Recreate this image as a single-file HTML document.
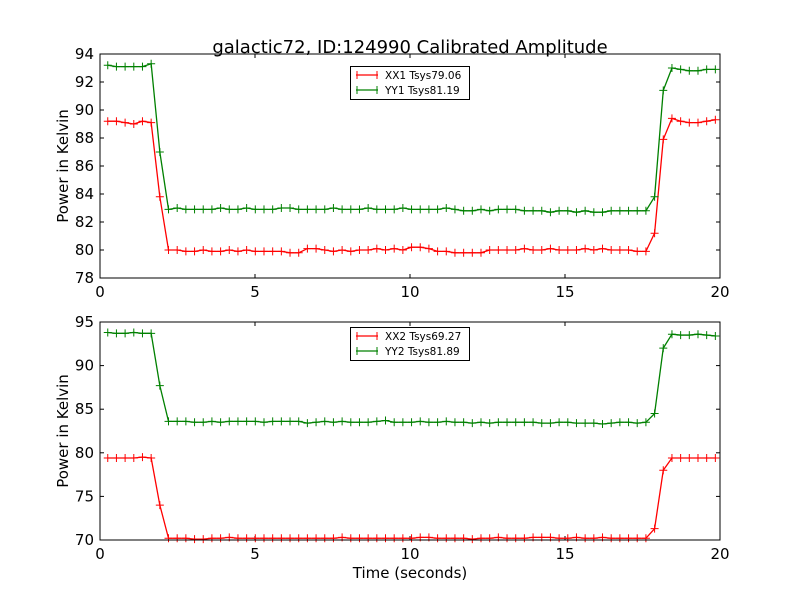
<!DOCTYPE html>
<html><head><meta charset="utf-8"><style>
body{margin:0;background:#fff;}
svg{display:block;font-family:"DejaVu Sans","Liberation Sans",sans-serif;}
</style></head><body>
<svg id="chart" width="800" height="600" viewBox="0 0 800 600">
<rect width="800" height="600" fill="#fff"/>
<text x="410" y="53" font-size="18" text-anchor="middle">galactic72, ID:124990 Calibrated Amplitude</text>
<text x="410" y="578" font-size="15" text-anchor="middle">Time (seconds)</text>
<g id="plots"></g>
</svg>
<script>
const xTicks = [0, 5, 10, 15, 20];
const topYTicks = [78, 80, 82, 84, 86, 88, 90, 92, 94];
const botYTicks = [70, 75, 80, 85, 90, 95];
const tStart = 0.25, tStep = 0.28, nPts = 71;
const xx1 = [89.2,89.2,89.1,89.0,89.2,89.1,83.8,
80.0,80.0,79.9,79.9,80.0,79.9,79.9,80.0,
79.9,80.0,79.9,79.9,79.9,79.9,79.8,79.8,
80.1,80.1,80.0,79.9,80.0,79.9,80.0,80.0,
80.1,80.0,80.1,80.0,80.2,80.2,80.1,79.9,
79.9,79.8,79.8,79.8,79.8,80.0,80.0,80.0,
80.0,80.1,80.0,80.0,80.1,80.0,80.0,80.0,
80.1,80.0,80.1,80.0,80.0,80.0,79.9,79.9,
81.2,87.9,89.4,89.2,89.1,89.1,89.2,89.3];
const yy1 = [93.2,93.1,93.1,93.1,93.1,93.3,87.0,
82.9,83.0,82.9,82.9,82.9,82.9,83.0,82.9,
82.9,83.0,82.9,82.9,82.9,83.0,83.0,82.9,
82.9,82.9,82.9,83.0,82.9,82.9,82.9,83.0,
82.9,82.9,82.9,83.0,82.9,82.9,82.9,82.9,
83.0,82.9,82.8,82.8,82.9,82.8,82.9,82.9,
82.9,82.8,82.8,82.8,82.7,82.8,82.8,82.7,
82.8,82.7,82.7,82.8,82.8,82.8,82.8,82.8,
83.8,91.4,93.0,92.9,92.8,92.8,92.9,92.9];
const xx2 = [79.4,79.4,79.4,79.4,79.5,79.4,74.0,
70.2,70.2,70.2,70.1,70.1,70.2,70.2,70.3,
70.2,70.2,70.2,70.2,70.2,70.2,70.2,70.2,
70.2,70.2,70.2,70.2,70.3,70.2,70.2,70.2,
70.2,70.2,70.2,70.2,70.2,70.3,70.3,70.2,
70.2,70.2,70.2,70.1,70.2,70.2,70.3,70.2,
70.2,70.2,70.3,70.3,70.3,70.2,70.2,70.3,
70.2,70.2,70.3,70.2,70.2,70.2,70.2,70.2,
71.3,78.0,79.4,79.4,79.4,79.4,79.4,79.4];
const yy2 = [93.8,93.7,93.7,93.8,93.7,93.7,87.7,
83.6,83.6,83.6,83.5,83.5,83.6,83.5,83.6,
83.6,83.6,83.6,83.5,83.6,83.6,83.6,83.6,
83.4,83.5,83.6,83.5,83.6,83.5,83.5,83.5,
83.6,83.7,83.5,83.5,83.5,83.6,83.5,83.5,
83.6,83.5,83.5,83.4,83.5,83.4,83.5,83.5,
83.5,83.5,83.5,83.4,83.4,83.5,83.5,83.4,
83.4,83.4,83.3,83.4,83.5,83.5,83.4,83.5,
84.5,92.0,93.6,93.5,93.5,93.6,93.5,93.4];
const labels1 = ["XX1 Tsys79.06", "YY1 Tsys81.19"];
const labels2 = ["XX2 Tsys69.27", "YY2 Tsys81.89"];

const NS = "http://www.w3.org/2000/svg";
const root = document.getElementById("plots");
function mk(tag, attrs, parent) {
  const e = document.createElementNS(NS, tag);
  for (const k in attrs) e.setAttribute(k, attrs[k]);
  parent.appendChild(e);
  return e;
}
function panel(key, top, bottom, yTicks, s1, s2, labs, legTop) {
  const L = 100, R = 720;
  const yMin = yTicks[0], yMax = yTicks[yTicks.length - 1];
  const xs = t => L + (t - xTicks[0]) / (xTicks[xTicks.length-1] - xTicks[0]) * (R - L);
  const ys = v => bottom - (v - yMin) / (yMax - yMin) * (bottom - top);
  const g = mk("g", {}, root);
  
  
  xTicks.forEach(t => {
    const x = xs(t);
    mk("line", {x1:x, x2:x, y1:bottom, y2:bottom-4, stroke:"#000"}, g);
    mk("line", {x1:x, x2:x, y1:top, y2:top+4, stroke:"#000"}, g);
    const tx = mk("text", {x:x, y:bottom+19, "font-size":15, "text-anchor":"middle"}, g);
    tx.textContent = t;
    
    
  });
  yTicks.forEach(v => {
    const y = ys(v);
    mk("line", {x1:L, x2:L+4, y1:y, y2:y, stroke:"#000"}, g);
    mk("line", {x1:R, x2:R-4, y1:y, y2:y, stroke:"#000"}, g);
    const tx = mk("text", {x:L-6, y:y+5, "font-size":15, "text-anchor":"end"}, g);
    tx.textContent = v;
    
    
  });
  const yt = mk("text", {x:0, y:0, "font-size":15, "text-anchor":"middle", transform:`translate(68,${(top+bottom)/2}) rotate(-90)`}, g);
  yt.textContent = "Power in Kelvin";
  
  
  [[s1, "#ff0000", "xx"], [s2, "#008000", "yy"]].forEach(([arr, col, nm]) => {
    const pts = arr.map((v, i) => [xs(tStart + i * tStep), ys(v)]);
    const pl = mk("polyline", {points: pts.map(p => p.join(",")).join(" "), fill:"none", stroke:col, "stroke-width":1.3}, g);
    
    
    let d = "";
    pts.forEach(p => { d += `M${p[0]-4},${p[1]}h8M${p[0]},${p[1]-4}v8`; });
    const mp = mk("path", {d:d, stroke:col, "stroke-width":1}, g);
    
    
  });
  const frame = mk("rect", {x:L, y:top, width:R-L, height:bottom-top, fill:"none", stroke:"#000", "stroke-width":1}, g);
  
  
  const lg = mk("g", {}, g);
  
  
  mk("rect", {x:350.5, y:legTop+0.5, width:119, height:33, fill:"#fff", stroke:"#000"}, lg);
  labs.forEach((lab, i) => {
    const col = i === 0 ? "#ff0000" : "#008000";
    const y = legTop + 9 + i * 15;
    const en = mk("g", {}, lg);
    
    
    mk("line", {x1:356, x2:378, y1:y, y2:y, stroke:col, "stroke-width":1.3}, en);
    mk("path", {d:`M357,${y-4}v8M377,${y-4}v8`, stroke:col}, en);
    const tx = mk("text", {x:385, y:y+4, "font-size":10.5}, en);
    tx.textContent = lab;
  });
}
panel("top", 54, 278, topYTicks, xx1, yy1, labels1, 66);
panel("bottom", 322, 540, botYTicks, xx2, yy2, labels2, 327);
</script>
</body></html>
